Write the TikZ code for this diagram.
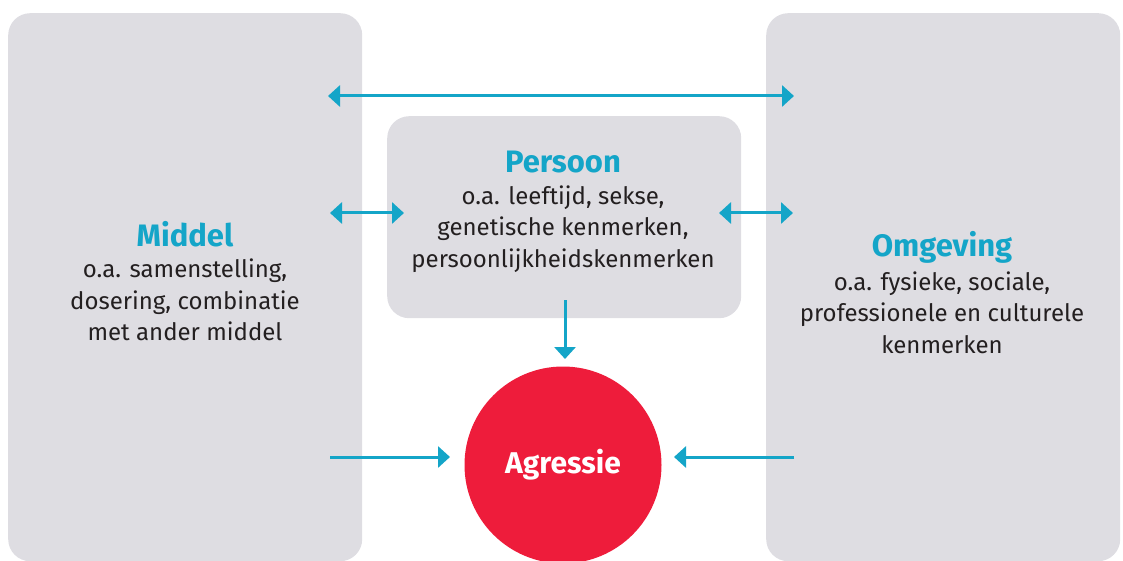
\documentclass[tikz,border=0pt]{standalone}
\usepackage{fontspec}
\setmainfont{Fira Sans}
\usetikzlibrary{positioning,arrows.meta}
\definecolor{boxgray}{HTML}{DEDDE2}
\definecolor{linkblue}{HTML}{14A5C8}
\definecolor{agrred}{HTML}{EE1C3B}
\definecolor{textdark}{HTML}{231F20}

\begin{document}
\begin{tikzpicture}[x=1pt,y=-1pt]
\tikzset{box/.style={fill=boxgray,rounded corners=22pt,inner sep=0pt,anchor=north west},
  titel/.style={text=linkblue,font=\fontsize{31}{34}\selectfont\bfseries,inner sep=0pt},
  uitleg/.style={text=textdark,font=\fontsize{24}{31.5}\selectfont,align=center,inner sep=0pt},
  link/.style={draw=linkblue,line width=3pt,-{Triangle[width=21pt,length=12pt]}},
  duolink/.style={link,{Triangle[width=21pt,length=12pt]}-{Triangle[width=21pt,length=12pt]}}}
\useasboundingbox (0,0) rectangle (1123,561);
\clip (0,0) rectangle (1123,561);
% boxes
\node [box,minimum width=354pt,minimum height=548pt] (middel) at (8,13) {};
\node [box,minimum width=354pt,minimum height=548pt] (omgeving) at (766,13) {};
\node [box,minimum width=354pt,minimum height=202pt] (persoon) at (387,116) {};
\node [circle,fill=agrred,minimum size=197pt,inner sep=0pt] (agressie) at (563,465) {};
% texts
\node [titel] (middelT) at (185,234) {Middel};
\node [uitleg,below=12pt of middelT] (middelU) {o.a. samenstelling,\\dosering, combinatie\\met ander middel};
\node [titel] (persoonT) at (563,162) {Persoon};
\node [uitleg,below=12pt of persoonT] (persoonU) {o.a. leeftijd, sekse,\\genetische kenmerken,\\persoonlijkheidskenmerken};
\node [titel] (omgevingT) at (942,247) {Omgeving};
\node [uitleg,below=8pt of omgevingT] (omgevingU) {o.a. fysieke, sociale,\\professionele en culturele\\kenmerken};
\node [text=white,font=\fontsize{30}{34}\selectfont\bfseries,inner sep=0pt] (agressieT) at (agressie) {Agressie};
% arrow ends
\coordinate (mTop) at (328,96);
\coordinate (oTop) at (794,96);
\coordinate (mMid) at (330,213);
\coordinate (pLeft) at (404,213);
\coordinate (pRight) at (719,213);
\coordinate (oMid) at (793,213);
\coordinate (pBot) at (565,300);
\coordinate (aTop) at (565,359);
\coordinate (mLow) at (330,457);
\coordinate (aLeft) at (450,457);
\coordinate (oLow) at (794,457);
\coordinate (aRight) at (674,457);
% arrows
\draw [duolink] (mTop) -- (oTop);
\draw [duolink] (mMid) -- (pLeft);
\draw [duolink] (pRight) -- (oMid);
\draw [link] (pBot) -- (aTop);
\draw [link] (mLow) -- (aLeft);
\draw [link] (oLow) -- (aRight);
\end{tikzpicture}
\end{document}
